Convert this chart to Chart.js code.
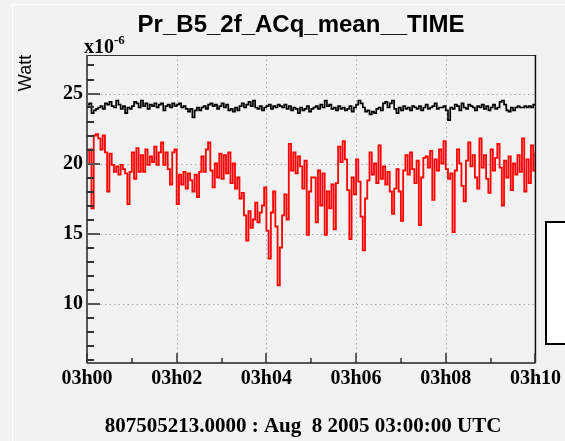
<!DOCTYPE html>
<html><head><meta charset="utf-8">
<script src="https://cdn.jsdelivr.net/npm/chart.js@4.4.1/dist/chart.umd.min.js"></script>
<style>
html,body{margin:0;padding:0;background:#f2f2f2;}
#wrap{position:relative;width:565px;height:441px;overflow:hidden;background:#f2f2f2;}
canvas{position:absolute;left:0;top:0;}
</style></head><body>
<div id="wrap"><canvas id="c" width="565" height="441"></canvas></div>
<script>
const TITLE = 'Pr_B5_2f_ACq_mean__TIME';
const Y_LABEL = 'Watt';
const Y_EXPONENT = '-6';
const FOOTER = '807505213.0000 : Aug  8 2005 03:00:00 UTC';
const X_TICK_SECONDS = [0, 120, 240, 360, 480, 600];
const X_TICK_LABELS = ['03h00', '03h02', '03h04', '03h06', '03h08', '03h10'];
const X_MINOR_SECONDS = [60, 180, 300, 420, 540];
const Y_TICKS = [10, 15, 20, 25];
const Y_MINOR = [6, 7, 8, 9, 11, 12, 13, 14, 16, 17, 18, 19, 21, 22, 23, 24, 26, 27];
const SAMPLE_STEP = 3; // seconds between samples

const blackSeries = [
  24.2, 24.3, 23.6, 23.8, 23.9, 24.0, 24.1, 23.9, 24.3, 24.2,
  24.4, 24.1, 24.0, 24.5, 24.2, 23.9, 24.1, 23.6, 24.0, 23.9,
  24.1, 24.4, 24.3, 24.0, 24.5, 24.1, 24.3, 23.9, 24.2, 24.1,
  24.3, 24.0, 24.2, 24.3, 23.8, 24.1, 24.2, 24.0, 24.3, 24.1,
  24.2, 24.3, 24.0, 24.1, 23.9, 23.7, 23.9, 23.3, 23.8, 24.0,
  23.8, 24.0, 24.1, 23.9, 24.2, 24.3, 24.1, 24.2, 23.9, 24.1,
  24.3, 24.0, 24.2, 23.8, 23.9, 23.7, 24.0, 23.8, 24.1, 24.3,
  24.0, 24.2, 24.4, 24.1, 24.5, 24.0, 23.9, 24.1, 23.8, 24.0,
  24.1, 24.2, 23.9, 24.1, 24.0, 24.2, 24.1, 24.0, 24.2, 23.9,
  24.1, 23.8, 24.0, 23.9, 23.6, 24.0, 23.8, 23.9, 24.1, 23.7,
  23.9, 24.0, 24.1, 23.9, 24.2, 24.0, 24.5, 24.1, 24.2, 23.9,
  24.0, 23.8, 24.1, 23.9, 24.0, 23.8, 23.9, 24.1, 23.7, 24.0,
  24.2, 24.5, 24.3, 24.0, 23.7, 23.8, 23.5, 23.7, 23.6, 23.9,
  24.0, 23.8, 24.3, 24.4, 24.0, 24.3, 24.5, 23.9, 23.6, 24.0,
  23.8, 24.1, 23.9, 24.0, 23.8, 24.1, 24.0, 23.9, 24.1, 23.8,
  24.0, 24.2, 23.9, 24.0, 24.1, 24.3, 23.9, 24.0, 24.0, 24.1,
  23.8, 23.1, 24.0, 23.9, 24.2, 24.1, 23.8, 24.3, 24.0, 23.9,
  24.2, 24.1, 24.0, 23.8, 24.1, 24.0, 24.2, 23.9, 24.1, 23.8,
  24.0, 24.2, 23.9, 24.0, 24.4, 24.5, 24.2, 23.8, 23.7, 24.0,
  23.8, 24.0, 24.1, 24.0, 24.0, 24.1, 24.0, 24.1, 24.0, 24.2,
  24.2
];

const redSeries = [
  20.0, 21.0, 16.8, 22.0, 22.1, 21.8, 21.0, 22.0, 20.8, 18.0,
  20.7, 19.9, 19.4, 19.8, 19.2, 19.9, 19.6, 19.3, 17.1, 19.4,
  20.8, 18.9, 21.1, 19.4, 20.6, 19.4, 21.0, 19.9, 20.5, 20.1,
  21.2, 19.9, 20.8, 21.5, 19.9, 20.8, 19.6, 18.5, 20.8, 21.0,
  17.1, 19.2, 18.5, 19.4, 18.2, 19.3, 18.8, 18.0, 19.2, 17.6,
  19.4, 20.5, 19.4, 21.0, 21.5, 19.5, 18.3, 20.0, 19.0, 20.7,
  18.9, 20.6, 19.3, 20.8, 18.6, 20.0, 18.2, 19.0, 17.5, 17.9,
  16.3, 14.5, 16.6, 15.4, 16.0, 17.2, 15.8, 16.5, 17.0, 18.3,
  15.2, 13.2, 16.5, 18.0, 15.5, 11.3, 14.0, 16.3, 17.8, 16.0,
  21.4, 19.5, 20.8, 19.3, 20.5, 19.8, 18.2, 20.2, 14.9, 18.0,
  19.0, 19.0, 15.8, 19.5, 17.0, 19.3, 14.9, 18.0, 16.8, 18.5,
  15.3, 18.6, 21.2, 20.1, 21.6, 20.3, 18.1, 14.6, 19.0, 17.8,
  20.3, 18.7, 16.2, 13.8, 17.5, 18.8, 20.8, 19.2, 20.0, 18.6,
  21.3, 18.9, 19.8, 18.5, 19.4, 18.0, 16.4, 18.2, 19.6, 18.0,
  15.9, 19.5, 20.6, 19.2, 20.8, 19.6, 18.6, 20.2, 15.6, 19.0,
  20.4, 20.5, 19.7, 20.9, 17.4, 20.3, 19.5, 21.0, 20.0, 21.6,
  19.6, 18.9, 19.3, 15.1, 19.5, 21.0, 20.0, 18.4, 17.3, 20.2,
  21.5, 19.8, 20.6, 19.0, 18.2, 21.8, 19.7, 20.6, 18.9, 17.9,
  21.0, 19.5, 20.4, 21.4, 19.7, 17.0, 20.2, 19.0, 20.5, 18.1,
  20.0, 19.2, 20.6, 19.4, 21.8, 18.0, 20.3, 18.6, 21.3, 19.5,
  20.8
];

const toPoints = arr => arr.map((v, i) => ({x: i * SAMPLE_STEP, y: v}));

const AXIS_COLOR = '#555555';
const GRID_COLOR = '#a8a8a8';

const framePlugin = {
  id: 'rootFrame',
  beforeDatasetsDraw(chart) {
    const {ctx, chartArea: a, scales: {x, y}} = chart;
    ctx.save();
    ctx.strokeStyle = GRID_COLOR;
    ctx.lineWidth = 1;
    ctx.setLineDash([1.5, 3]);
    Y_TICKS.forEach(v => {
      const py = Math.round(y.getPixelForValue(v)) + 0.5;
      ctx.beginPath(); ctx.moveTo(a.left, py); ctx.lineTo(a.right, py); ctx.stroke();
    });
    X_TICK_SECONDS.slice(1, -1).forEach(v => {
      const px = Math.round(x.getPixelForValue(v)) + 0.5;
      ctx.beginPath(); ctx.moveTo(px, a.top); ctx.lineTo(px, a.bottom); ctx.stroke();
    });
    ctx.restore();
  },
  afterDatasetsDraw(chart) {
    const {ctx, chartArea: a, scales: {x, y}} = chart;
    ctx.save();
    ctx.setLineDash([]);
    ctx.strokeStyle = '#333';
    ctx.lineWidth = 1;
    ctx.beginPath();
    ctx.moveTo(a.left, a.top + 0.5); ctx.lineTo(a.right, a.top + 0.5);
    ctx.stroke();
    ctx.strokeStyle = '#111';
    ctx.lineWidth = 1.5;
    ctx.beginPath();
    ctx.moveTo(a.right, a.top); ctx.lineTo(a.right, a.bottom);
    ctx.stroke();
    ctx.strokeStyle = AXIS_COLOR;
    ctx.lineWidth = 2;
    ctx.beginPath();
    ctx.moveTo(a.left, a.top); ctx.lineTo(a.left, a.bottom);
    ctx.moveTo(a.left, a.bottom); ctx.lineTo(a.right, a.bottom);
    ctx.stroke();
    Y_TICKS.forEach(v => {
      const py = Math.round(y.getPixelForValue(v));
      ctx.beginPath(); ctx.moveTo(a.left, py); ctx.lineTo(a.left + 13, py); ctx.stroke();
    });
    ctx.strokeStyle = '#333';
    Y_MINOR.forEach(v => {
      const py = Math.round(y.getPixelForValue(v));
      ctx.beginPath(); ctx.moveTo(a.left, py); ctx.lineTo(a.left + 7, py); ctx.stroke();
    });
    ctx.lineWidth = 1.5;
    X_TICK_SECONDS.forEach(v => {
      const px = Math.round(x.getPixelForValue(v));
      ctx.beginPath(); ctx.moveTo(px, a.bottom); ctx.lineTo(px, a.bottom - 10); ctx.stroke();
    });
    X_MINOR_SECONDS.forEach(v => {
      const px = Math.round(x.getPixelForValue(v));
      ctx.beginPath(); ctx.moveTo(px, a.bottom); ctx.lineTo(px, a.bottom - 5); ctx.stroke();
    });
    ctx.restore();
  },
  afterDraw(chart) {
    const {ctx, chartArea: a} = chart;
    ctx.save();
    ctx.strokeStyle = '#ffffff';
    ctx.lineWidth = 1;
    ctx.beginPath();
    ctx.moveTo(12.5, 441); ctx.lineTo(12.5, 4.5); ctx.lineTo(565, 4.5);
    ctx.stroke();
    ctx.fillStyle = '#000';
    ctx.font = 'bold 24px "Liberation Sans", Arial, sans-serif';
    ctx.textAlign = 'center';
    ctx.textBaseline = 'alphabetic';
    ctx.fillText(TITLE, 301, 32);
    ctx.textAlign = 'left';
    ctx.font = 'bold 20px "Liberation Serif", "Times New Roman", serif';
    ctx.fillText('x10', a.left - 3, 53);
    const w = ctx.measureText('x10').width;
    ctx.font = 'bold 13px "Liberation Serif", "Times New Roman", serif';
    ctx.fillText(Y_EXPONENT, a.left - 3 + w, 44);
    ctx.save();
    ctx.translate(31, 73);
    ctx.rotate(-Math.PI / 2);
    ctx.textAlign = 'center';
    ctx.font = '18px "Liberation Sans", Arial, sans-serif';
    ctx.fillText(Y_LABEL, 0, 0);
    ctx.restore();
    ctx.textAlign = 'center';
    ctx.font = 'bold 21px "Liberation Serif", "Times New Roman", serif';
    ctx.fillText(FOOTER, 303, 432);
    ctx.fillStyle = '#ffffff';
    ctx.fillRect(546, 222, 30, 122);
    ctx.strokeStyle = '#000';
    ctx.lineWidth = 2;
    ctx.strokeRect(546, 222, 30, 122);
    ctx.restore();
  }
};

new Chart(document.getElementById('c'), {
  type: 'line',
  data: {
    datasets: [
      {data: toPoints(blackSeries), borderColor: '#000000', borderWidth: 1.7, pointRadius: 0, stepped: true, fill: false},
      {data: toPoints(redSeries), borderColor: '#ff0000', borderWidth: 1.8, pointRadius: 0, stepped: true, fill: false}
    ]
  },
  options: {
    responsive: false,
    animation: false,
    devicePixelRatio: 1,
    layout: {padding: {left: 0, top: 55, right: 28, bottom: 0}},
    plugins: {legend: {display: false}, tooltip: {enabled: false}, title: {display: false}},
    scales: {
      x: {
        type: 'linear', min: 0, max: 600,
        grid: {display: false, drawTicks: false},
        border: {display: false},
        afterBuildTicks: s => { s.ticks = X_TICK_SECONDS.map(v => ({value: v})); },
        afterFit: s => { s.height = 78; },
        ticks: {
          autoSkip: false, maxRotation: 0, minRotation: 0, padding: 4, color: '#000',
          font: {family: '"Liberation Serif", "Times New Roman", serif', weight: 'bold', size: 20},
          callback: v => X_TICK_LABELS[X_TICK_SECONDS.indexOf(v)]
        }
      },
      y: {
        type: 'linear', min: 5.75, max: 27.75,
        grid: {display: false, drawTicks: false},
        border: {display: false},
        afterBuildTicks: s => { s.ticks = Y_TICKS.map(v => ({value: v})); },
        afterFit: s => { s.width = 87; },
        ticks: {
          padding: 4, color: '#000',
          font: {family: '"Liberation Serif", "Times New Roman", serif', weight: 'bold', size: 20},
          callback: v => String(v)
        }
      }
    }
  },
  plugins: [framePlugin]
});
</script>
</body></html>
